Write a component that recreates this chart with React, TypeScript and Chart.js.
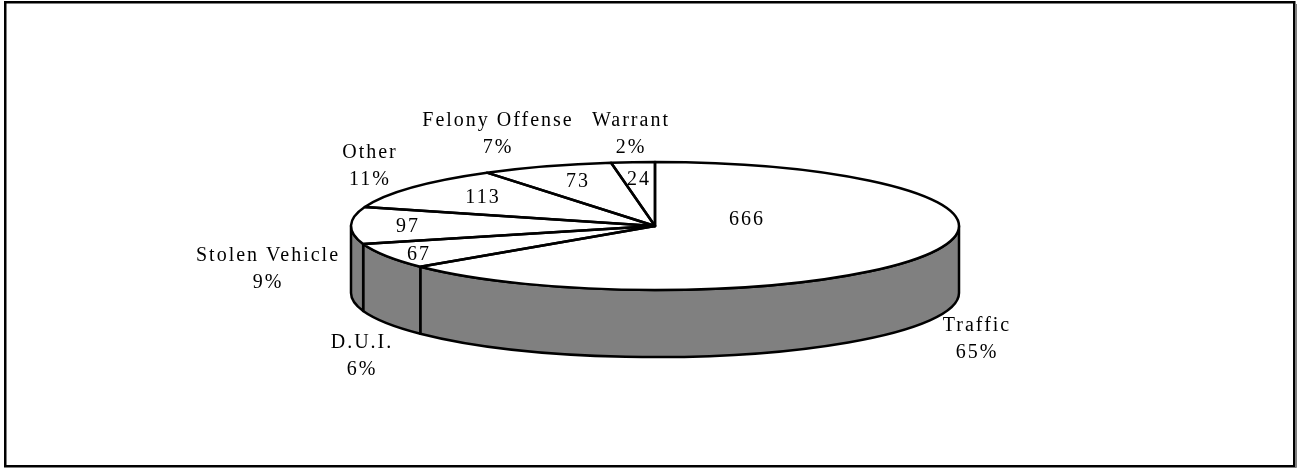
import React, { useEffect, useRef } from "react";
import { Chart, registerables } from "chart.js";

Chart.register(...registerables);

// ---- data ----
const categories = ["Traffic", "D.U.I.", "Stolen Vehicle", "Other", "Felony Offense", "Warrant"];
const counts = [666, 67, 97, 113, 73, 24];
const percentLabels = ["65%", "6%", "9%", "11%", "7%", "2%"];

// ---- label placement: pixel offsets from the pie centre ----
const nameLabelOffsets = [
  [321, 105],
  [-294, 122],
  [-388, 35],
  [-286, -68],
  [-158, -100],
  [-25, -100],
];
const valueLabelOffsets = [
  [91, -1],
  [-237, 34],
  [-248, 6],
  [-173, -23],
  [-78, -39],
  [-17, -41],
];

// ---- 3D pie geometry ----
const PIE = { cx: 655, cy: 226, rx: 304, ry: 64, depth: 67 };
const WALL_COLOR = "#808080";
const TOP_COLOR = "#ffffff";
const FONT = '20px "Liberation Serif", "Times New Roman", serif';
const LINE_GAP = 27;
const SPACING = 2;
const STROKE = 2.5;

const pie3dPlugin = {
  id: "pie3d",
  afterDatasetsUpdate(chart: any) {
    const meta = chart.getDatasetMeta(0);
    meta.data.forEach((el: any) => {
      el.x = PIE.cx;
      el.y = PIE.cy;
      el.outerRadius = PIE.rx;
      el.innerRadius = 0;
    });
  },
  beforeDatasetsDraw(chart: any) {
    const ctx: CanvasRenderingContext2D = chart.ctx;
    const meta = chart.getDatasetMeta(0);
    const { cx, cy, rx, ry, depth } = PIE;
    ctx.save();
    ctx.lineWidth = STROKE;
    ctx.strokeStyle = "#000";
    ctx.fillStyle = WALL_COLOR;
    ctx.lineJoin = "round";
    meta.data.forEach((el: any) => {
      const a1 = Math.max(el.startAngle, 0);
      const a2 = Math.min(el.endAngle, Math.PI);
      if (a2 <= a1) return;
      ctx.beginPath();
      ctx.ellipse(cx, cy, rx, ry, 0, a1, a2);
      ctx.lineTo(cx + rx * Math.cos(a2), cy + ry * Math.sin(a2) + depth);
      ctx.ellipse(cx, cy + depth, rx, ry, 0, a2, a1, true);
      ctx.closePath();
      ctx.fill();
      ctx.stroke();
    });
    ctx.restore();
    // squash the library's circular arcs into the ellipse of the top face
    ctx.save();
    ctx.translate(cx, cy);
    ctx.scale(1, ry / rx);
    ctx.translate(-cx, -cy);
  },
  afterDatasetsDraw(chart: any) {
    const ctx: CanvasRenderingContext2D = chart.ctx;
    ctx.restore();
    const meta = chart.getDatasetMeta(0);
    const { cx, cy, rx, ry } = PIE;
    ctx.save();
    ctx.lineWidth = STROKE;
    ctx.strokeStyle = "#000";
    ctx.lineJoin = "round";
    meta.data.forEach((el: any) => {
      const s = el.startAngle;
      const e = el.endAngle;
      ctx.beginPath();
      ctx.moveTo(cx, cy);
      ctx.lineTo(cx + rx * Math.cos(s), cy + ry * Math.sin(s));
      ctx.ellipse(cx, cy, rx, ry, 0, s, e);
      ctx.closePath();
      ctx.stroke();
    });

    ctx.font = FONT;
    ctx.fillStyle = "#000";
    ctx.textAlign = "center";
    ctx.textBaseline = "alphabetic";
    (ctx as any).letterSpacing = SPACING + "px";
    const labels = chart.data.labels as string[];
    const values = chart.data.datasets[0].data as number[];
    labels.forEach((name, i) => {
      const [nx, ny] = nameLabelOffsets[i];
      ctx.fillText(name, cx + nx + SPACING / 2, cy + ny);
      ctx.fillText(percentLabels[i], cx + nx + SPACING / 2, cy + ny + LINE_GAP);
      const [vx, vy] = valueLabelOffsets[i];
      ctx.fillText(String(values[i]), cx + vx + SPACING / 2, cy + vy);
    });
    ctx.restore();
  },
  afterDraw(chart: any) {
    const ctx: CanvasRenderingContext2D = chart.ctx;
    ctx.save();
    ctx.strokeStyle = "#000";
    ctx.lineWidth = 2.5;
    ctx.strokeRect(5.25, 2.25, 1289, 464);
    ctx.strokeStyle = "#808080";
    ctx.lineWidth = 1;
    ctx.beginPath();
    ctx.moveTo(1296.5, 4);
    ctx.lineTo(1296.5, 467.5);
    ctx.lineTo(7, 467.5);
    ctx.stroke();
    ctx.restore();
  },
};

export default function App() {
  const canvasRef = useRef<HTMLCanvasElement | null>(null);

  useEffect(() => {
    document.body.style.margin = "0";
    const canvas = canvasRef.current;
    if (!canvas) return;
    const chart = new Chart(canvas, {
      type: "pie",
      data: {
        labels: categories,
        datasets: [
          {
            data: counts,
            backgroundColor: categories.map(() => TOP_COLOR),
            borderWidth: 0,
            clip: false as any,
          },
        ],
      },
      options: {
        responsive: false,
        animation: false,
        events: [],
        layout: { padding: 0 },
        plugins: {
          legend: { display: false },
          tooltip: { enabled: false },
          title: { display: false },
        },
      },
      plugins: [pie3dPlugin],
    });
    return () => chart.destroy();
  }, []);

  return (
    <div style={{ position: "absolute", left: 0, top: 0, width: 1300, height: 468, background: "#fff" }}>
      <canvas ref={canvasRef} width={1300} height={468} style={{ display: "block" }} />
    </div>
  );
}
